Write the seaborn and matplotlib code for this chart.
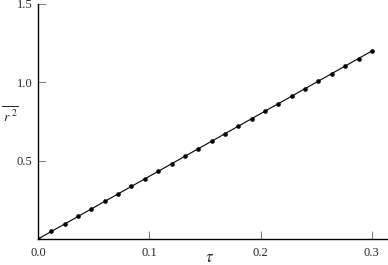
import matplotlib
matplotlib.use("Agg")
import matplotlib.pyplot as plt
import seaborn as sns
import pandas as pd

tau = [0.0, 0.012, 0.024, 0.036, 0.048, 0.06, 0.072, 0.084, 0.096, 0.108,
       0.12, 0.132, 0.144, 0.156, 0.168, 0.18, 0.192, 0.204, 0.216, 0.228,
       0.24, 0.252, 0.264, 0.276, 0.288, 0.3]
r2 = [0.0, 0.048, 0.096, 0.144, 0.192, 0.24, 0.288, 0.336, 0.384, 0.432,
      0.48, 0.528, 0.576, 0.624, 0.672, 0.72, 0.768, 0.816, 0.864, 0.912,
      0.96, 1.008, 1.056, 1.104, 1.152, 1.2]
xticks = [0.0, 0.1, 0.2, 0.3]
xticklabels = ["0.0", "0.1", "0.2", "0.3"]
yticks = [0.5, 1.0, 1.5]
yticklabels = ["0.5", "1.0", "1.5"]

df = pd.DataFrame({"tau": tau, "r2": r2})

sns.set_style("ticks")
plt.rcParams['font.family'] = ['Liberation Serif', 'DejaVu Serif']
plt.rcParams['mathtext.fontset'] = 'stix'

fig = plt.figure(figsize=(3.88, 2.65), dpi=100)
ax = fig.add_axes([38/388, 26/265, 350/388, 235/265])

sns.lineplot(data=df, x="tau", y="r2", ax=ax, color="black", linewidth=0.8)
sns.scatterplot(data=df, x="tau", y="r2", ax=ax, color="black", s=11,
                edgecolor="black", linewidth=0, zorder=3)

ax.set_xlim(0, 0.3145)
ax.set_ylim(0, 1.5)
ax.set_xticks(xticks)
ax.set_xticklabels(xticklabels, fontsize=9)
ax.set_yticks(yticks)
ax.set_yticklabels(yticklabels, fontsize=9)
ax.tick_params(direction="in", length=6, width=0.6, color="#666666")
ax.tick_params(axis="x", pad=6)
ax.tick_params(axis="y", pad=4)
for s in ["top", "right"]:
    ax.spines[s].set_visible(False)
for s in ["left", "bottom"]:
    ax.spines[s].set_linewidth(1.0)
    ax.spines[s].set_color("black")
ax.set_xlabel("")
ax.set_ylabel("")
fig.text(210/388, 1 - 258/265, r"$\tau$", ha="center", va="center", fontsize=12)
fig.text(10/388, 1 - 116/265, r"$\overline{\;r^{\,2}}$", ha="center", va="center", fontsize=10)

fig.savefig("out.png", dpi=100)
